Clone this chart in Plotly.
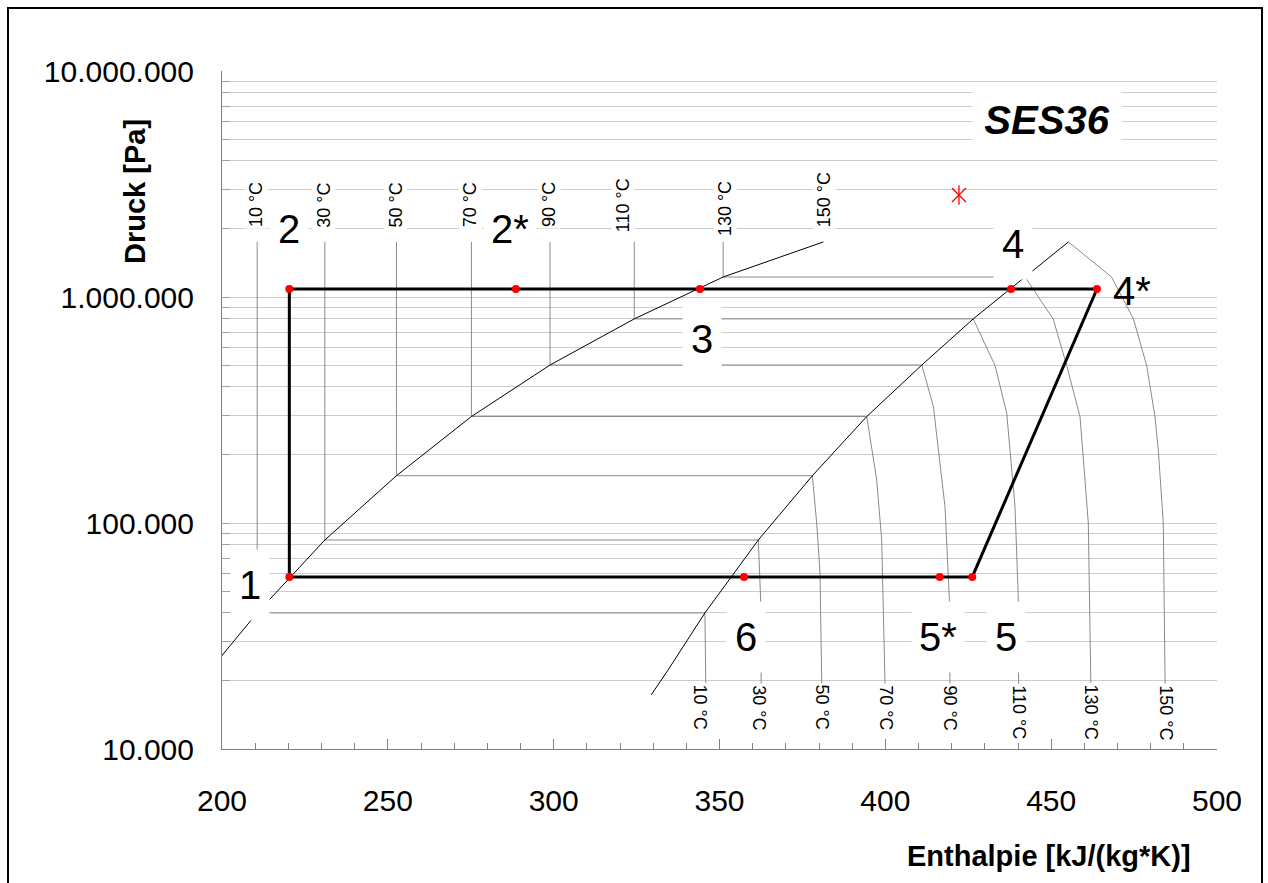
import math
import plotly.graph_objects as go

# ---------------- data ----------------
TEMPS = [10, 30, 50, 70, 90, 110, 130, 150]                      # isotherms, degC
P_SAT = [40000, 84100, 161900, 295900, 500000, 800000, 1226000, 1752000]   # Pa
H_LIQ = [210.6, 231.0, 252.6, 275.2, 298.9, 324.3, 351.1, 381.3]  # sat. liquid enthalpy
H_VAP = [345.6, 361.7, 378.0, 394.4, 411.0, 426.5, 442.1, 455.2]  # sat. vapour enthalpy

LIQ_START_H = [197.9]
LIQ_START_P = [23800]
VAP_START_H = [329.4, 334.5]
VAP_START_P = [17350, 22370]

# superheated-vapour part of each isotherm (after the saturated-vapour point)
SH_H = [
    [345.8, 345.9],
    [362.4, 362.6],
    [379.3, 380.3, 380.8, 380.9],
    [396.4, 397.4, 398.9, 399.9, 400.0],
    [414.5, 416.0, 418.0, 419.3, 419.5],
    [433.1, 436.6, 437.6, 439.1, 440.1, 440.2],
    [450.6, 454.7, 458.7, 459.5, 461.2, 461.9, 462.0],
    [468.2, 474.8, 478.8, 481.3, 482.3, 483.8, 484.3, 484.4],
]
SH_P = [
    [22400, 17000],
    [46100, 17000],
    [100000, 60100, 22400, 17000],
    [190200, 155000, 84100, 22400, 17000],
    [327100, 210500, 118000, 46100, 17000],
    [496600, 305800, 210500, 118000, 46100, 17000],
    [800000, 496600, 295100, 210500, 100000, 22400, 17000],
    [1226000, 800000, 496600, 295100, 210500, 100000, 22400, 17000],
]

# cycle state points
STATES = ["1", "2", "2*", "3", "4", "4*", "5", "5*", "6"]
STATE_H = [220.3, 220.3, 288.6, 344.1, 437.9, 463.8, 426.2, 416.4, 357.4]
STATE_P = [57700, 1084000, 1084000, 1084000, 1084000, 1084000, 57700, 57700, 57700]
CYCLE_ORDER = [0, 1, 2, 3, 4, 5, 6, 7, 8, 0]

STAR_H = [422.2]
STAR_P = [2825000]

X_TICKS = [200, 250, 300, 350, 400, 450, 500]
Y_MAJOR = [10000, 100000, 1000000, 10000000]
Y_MAJOR_TEXT = ["10.000", "100.000", "1.000.000", "10.000.000"]

# ---------------- styling ----------------
FONT = "Liberation Sans, Arial, sans-serif"
ISO_COLOR = "#8a8a8a"
GRID_COLOR = "#cccccc"

fig = go.Figure()

# isotherms
for i, t in enumerate(TEMPS):
    xs, ys = [], []
    if t != TEMPS[-1]:
        xs += [H_LIQ[i], H_LIQ[i], H_VAP[i]]
        ys += [P_SAT[-1], P_SAT[i], P_SAT[i]]
    else:
        xs += [H_VAP[i]]
        ys += [P_SAT[i]]
    xs += SH_H[i]
    ys += SH_P[i]
    fig.add_trace(go.Scatter(x=xs, y=ys, mode="lines",
                             line=dict(color=ISO_COLOR, width=1),
                             hoverinfo="skip", showlegend=False))

# saturation lines
fig.add_trace(go.Scatter(x=LIQ_START_H + H_LIQ, y=LIQ_START_P + P_SAT, mode="lines",
                         line=dict(color="black", width=1), showlegend=False))
fig.add_trace(go.Scatter(x=VAP_START_H + H_VAP, y=VAP_START_P + P_SAT, mode="lines",
                         line=dict(color="black", width=1), showlegend=False))

# cycle
fig.add_trace(go.Scatter(x=[STATE_H[k] for k in CYCLE_ORDER],
                         y=[STATE_P[k] for k in CYCLE_ORDER], mode="lines",
                         line=dict(color="black", width=3), showlegend=False))
fig.add_trace(go.Scatter(x=STATE_H, y=STATE_P, mode="markers",
                         marker=dict(color="red", size=8), showlegend=False))

# red star (x + vertical bar)
for sym in ["x-thin-open", "line-ns-open"]:
    fig.add_trace(go.Scatter(x=STAR_H, y=STAR_P, mode="markers",
                             marker=dict(symbol=sym, size=14, color="red",
                                         line=dict(color="red", width=1.3)),
                             showlegend=False))

# state labels: pixel offsets from their points
STATE_SHIFT = {"1": (-39, -8), "2": (0, 60), "2*": (-6, 60), "3": (2, -50),
               "4": (2, 45), "4*": (35, -2), "5": (34, -60), "5*": (-2, -60),
               "6": (2, -60)}
for name, h, p in zip(STATES, STATE_H, STATE_P):
    dx, dy = STATE_SHIFT[name]
    star = "*" in name
    fig.add_annotation(x=h, y=math.log10(p), text=name, showarrow=False,
                       xshift=dx, yshift=dy,
                       font=dict(family=FONT, size=40, color="black"),
                       bgcolor="rgba(0,0,0,0)" if name == "4*" else "white",
                       width=52 if star else 38, height=70, borderpad=0)

# top temperature labels (liquid side)
TOP_SHIFT = {110: (-11, 37), 130: (2, 33), 150: (1, 42)}
for i, t in enumerate(TEMPS):
    dx, dy = TOP_SHIFT.get(t, (-1, 37))
    fig.add_annotation(x=H_LIQ[i], y=math.log10(P_SAT[-1]), text=f"{t} °C",
                       showarrow=False, textangle=-90, xshift=dx, yshift=dy,
                       font=dict(family=FONT, size=18, color="black"),
                       bgcolor="white", borderpad=1)

# bottom temperature labels (vapour side)
BOT_SHIFT = {10: -6, 30: -3}
for i, t in enumerate(TEMPS):
    fig.add_annotation(x=SH_H[i][-1], y=math.log10(20000), text=f"{t} °C",
                       showarrow=False, textangle=90, yanchor="top",
                       xshift=BOT_SHIFT.get(t, 0), yshift=-2,
                       font=dict(family=FONT, size=18, color="black"),
                       bgcolor="white", borderpad=1)

# refrigerant name
fig.add_annotation(x=448.7, y=math.log10(6.07e6), text="<b><i>SES36</i></b>",
                   showarrow=False, font=dict(family=FONT, size=40, color="black"),
                   bgcolor="white", width=148, height=64, borderpad=0)

# axis titles
fig.add_annotation(xref="paper", yref="paper", x=(1193 - 222) / 995, y=(749 - 856) / 678,
                   xanchor="right", yanchor="middle", showarrow=False,
                   text="<b>Enthalpie [kJ/(kg*K)]</b>",
                   font=dict(family=FONT, size=29, color="black"))
fig.add_annotation(xref="paper", yref="paper", x=(135 - 222) / 995, y=(749 - 192) / 678,
                   xanchor="center", yanchor="middle", showarrow=False, textangle=-90,
                   text="<b>Druck [Pa]</b>",
                   font=dict(family=FONT, size=29, color="black"))

# outer frame
fig.add_shape(type="rect", xref="paper", yref="paper",
              x0=(8 - 222) / 995, x1=(1262 - 222) / 995,
              y0=(749 - 895) / 678, y1=(749 - 8) / 678,
              line=dict(color="black", width=2), fillcolor="rgba(0,0,0,0)")

# y ticks: every 1..9 x decade get a grid line; labels only at decades
y_tickvals, y_ticktext = [], []
for k in range(4, 7):
    for m in range(1, 10):
        y_tickvals.append(m * 10 ** k)
        y_ticktext.append(Y_MAJOR_TEXT[k - 4] if m == 1 else "")
y_tickvals.append(Y_MAJOR[-1])
y_ticktext.append(Y_MAJOR_TEXT[-1])

fig.update_layout(
    width=1268, height=883,
    margin=dict(l=222, r=51, t=71, b=134),
    paper_bgcolor="white", plot_bgcolor="white",
    font=dict(family=FONT, color="black"),
    showlegend=False,
    xaxis=dict(range=[200, 500], tickvals=X_TICKS, showgrid=False, zeroline=False,
               showline=True, linecolor="#808080", linewidth=1,
               ticks="inside", ticklen=10, tickcolor="#808080",
               minor=dict(dtick=10, ticks="inside", ticklen=6, tickcolor="#808080",
                          showgrid=False),
               tickfont=dict(size=30, family=FONT), ticklabelstandoff=25),
    yaxis=dict(type="log", range=[4, 7], tickvals=y_tickvals, ticktext=y_ticktext,
               showgrid=True, gridcolor=GRID_COLOR, gridwidth=1, zeroline=False,
               showline=True, linecolor="#808080", linewidth=1,
               ticks="inside", ticklen=8, tickcolor="#a0a0a0",
               tickfont=dict(size=30, family=FONT), ticklabelstandoff=21),
)

fig.write_html("out.html")
